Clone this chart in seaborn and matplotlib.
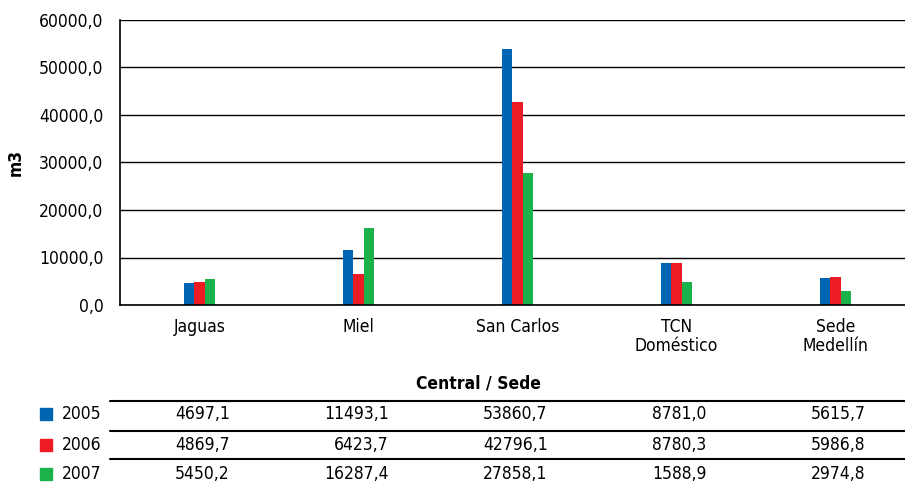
import matplotlib
matplotlib.use("Agg")
import matplotlib.pyplot as plt
import matplotlib.transforms as mtransforms
from matplotlib.lines import Line2D
from matplotlib.patches import Rectangle
import seaborn as sns
import pandas as pd

categories = ["Jaguas", "Miel", "San Carlos", "TCN\nDoméstico", "Sede\nMedellín"]
years = ["2005", "2006", "2007"]
v2005 = [4697.1, 11493.1, 53860.7, 8781.0, 5615.7]
v2006 = [4869.7, 6423.7, 42796.1, 8780.3, 5986.8]
v2007 = [5450.2, 16287.4, 27858.1, 4900.0, 2974.8]  # TCN bar as drawn in picture
table_2005 = ["4697,1", "11493,1", "53860,7", "8781,0", "5615,7"]
table_2006 = ["4869,7", "6423,7", "42796,1", "8780,3", "5986,8"]
table_2007 = ["5450,2", "16287,4", "27858,1", "1588,9", "2974,8"]
yticks = [0, 10000, 20000, 30000, 40000, 50000, 60000]
ytick_labels = ["0,0", "10000,0", "20000,0", "30000,0", "40000,0", "50000,0", "60000,0"]
colors = ["#0066B3", "#ED1C24", "#1CB24B"]

sns.set_style("white")
plt.rcParams["font.family"] = ["DejaVu Sans"]
plt.rcParams["font.stretch"] = "condensed"
for k in ["text.color", "axes.labelcolor", "xtick.color", "ytick.color"]:
    plt.rcParams[k] = "black"

rows = []
for y, vals in zip(years, [v2005, v2006, v2007]):
    for c, v in zip(categories, vals):
        rows.append({"cat": c, "year": y, "val": v})
df = pd.DataFrame(rows)

fig = plt.figure(figsize=(9.05, 4.86), dpi=100)
W, H = 905, 486
ax = fig.add_axes([120 / W, (H - 305) / H, 795 / W, 285 / H])

sns.barplot(data=df, x="cat", y="val", hue="year", order=categories,
            hue_order=years, palette=colors, width=0.2, ax=ax,
            legend=False, saturation=1, edgecolor="none", linewidth=0)

FS = 12.5
ax.set_xlim(-0.5, 4.5)
ax.set_ylim(0, 60000)
ax.set_yticks(yticks)
ax.set_yticklabels(ytick_labels, fontsize=FS)
ax.yaxis.grid(True, color="black", linewidth=1)
ax.set_axisbelow(True)
for s in ["top", "right"]:
    ax.spines[s].set_visible(False)
ax.spines["left"].set_color("black")
ax.spines["bottom"].set_color("black")
ax.spines["left"].set_linewidth(1.2)
ax.spines["bottom"].set_linewidth(1.2)
ax.tick_params(axis="y", direction="out", length=8, width=1.2, color="black", pad=4)
ax.set_xticks(range(len(categories)))
ax.set_xticklabels(categories, fontsize=FS, linespacing=1.1)
ax.tick_params(axis="x", which="major", length=0, pad=9)
ax.set_xticks([0.5, 1.5, 2.5, 3.5], minor=True)
ax.tick_params(axis="x", which="minor", direction="out", length=8, width=1.2, color="black")
ax.set_xlabel("")
ax.set_ylabel("m3", fontsize=FS, fontweight="bold", labelpad=10)

# table
fig.text(478 / W, 1 - 383 / H, "Central / Sede", ha="center", va="center",
         fontsize=FS, fontweight="bold")
for yl in [401, 431, 459]:
    fig.add_artist(Line2D([110 / W, 1.0], [1 - yl / H, 1 - yl / H],
                          color="black", linewidth=1.5, transform=fig.transFigure))
trans = mtransforms.blended_transform_factory(ax.transData, fig.transFigure)
row_y = [414, 445, 474]
for yr, col, tv, ry in zip(years, colors, [table_2005, table_2006, table_2007], row_y):
    yf = 1 - ry / H
    fig.add_artist(Rectangle((40 / W, yf - 6 / H), 12 / W, 12 / H, color=col,
                             transform=fig.transFigure))
    fig.text(62 / W, yf, yr, ha="left", va="center", fontsize=FS)
    for i, t in enumerate(tv):
        fig.text(i + 0.19, yf, t, ha="right", va="center", fontsize=FS, transform=trans)

fig.savefig("out.png", dpi=100)
